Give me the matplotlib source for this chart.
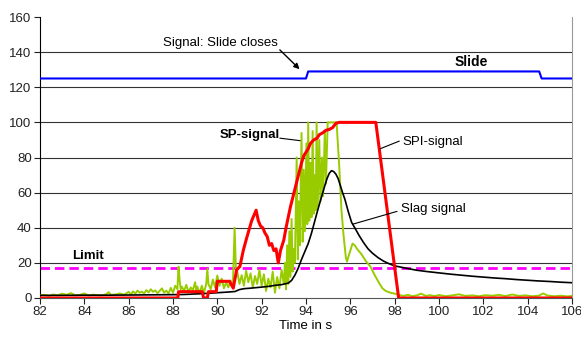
import matplotlib
matplotlib.use("Agg")
import matplotlib.pyplot as plt

plt.rcParams['font.family'] = ['Liberation Sans', 'DejaVu Sans']

# Slide position signal
slide_t = [82.0, 94.0, 94.1, 104.52, 104.63, 106.0]
slide_v = [125, 125, 129, 129, 125, 125]

# Limit level
limit = 17

# SPI-signal (red)
spi_t = [82.0, 88.22, 88.25, 89.32, 89.38, 89.55, 89.6, 89.95, 90.0, 90.55, 90.72, 90.87,
         91.02, 91.17, 91.32, 91.55, 91.75, 91.85, 91.95, 92.05, 92.15, 92.25, 92.35, 92.45,
         92.55, 92.65, 92.75, 92.85, 92.95, 93.0, 93.1, 93.2, 93.3, 93.4, 93.5, 93.6, 93.7,
         93.8, 93.9, 94.0, 94.1, 94.2, 94.35, 94.5, 94.6, 94.75, 94.9, 95.05, 95.2, 95.35,
         95.5, 97.15, 98.18, 106.0]
spi_v = [0, 0, 3.6, 3.6, 0, 0, 3.6, 3.6, 9.5, 9.5, 5.6, 16,
         18, 27, 34, 44, 50, 44, 41, 40, 37, 35, 30, 31,
         27, 28, 20, 27, 31, 33, 40, 46, 52, 57, 62, 67, 72,
         77, 81, 83, 85, 88, 90, 91, 93, 94, 95.5, 96, 97, 99.5,
         100, 100, 0, 0]

# Slag signal (black)
slag_t = [82.0, 83.0, 84.0, 85.0, 86.0, 87.0, 88.0, 88.5, 89.0, 89.5, 90.0, 90.5, 90.8,
          91.0, 91.2, 91.5, 92.0, 92.3, 92.6, 92.9, 93.2, 93.35, 93.5, 93.65, 93.8, 93.95,
          94.1, 94.25, 94.4, 94.55, 94.7, 94.85, 94.95, 95.05, 95.15, 95.25, 95.35, 95.45,
          95.55, 95.65, 95.76, 95.9, 96.06, 96.2, 96.4, 96.6, 96.8, 97.0, 97.25, 97.5, 97.75,
          98.0, 98.5, 99.0, 99.5, 100.0, 100.5, 101.0, 101.5, 102.0, 102.5, 103.0, 103.5,
          104.0, 104.5, 105.0, 105.5, 106.0]
slag_v = [1.5, 1.5, 1.6, 1.6, 1.7, 1.8, 1.9, 2.0, 2.3, 2.6, 3.0, 3.4, 3.7,
          4.8, 5.3, 5.6, 6.2, 6.6, 7.2, 7.6, 8.5, 10, 13, 17, 22, 26.5,
          31, 37, 44, 51, 57.5, 64, 68, 71, 72.5, 72, 70.5, 68,
          64, 60, 56, 49.5, 43, 40, 35.5, 31.5, 28, 25.5, 23, 21, 19.5,
          18.3, 17, 15.8, 15, 14.3, 13.6, 13, 12.4, 11.9, 11.4, 11, 10.5,
          10.1, 9.7, 9.4, 9.0, 8.7]

# SP-signal (green)
sp_t = [82.0, 82.2, 82.4, 82.6, 82.8, 83.0, 83.2, 83.4, 83.6, 83.8, 84.0, 84.2, 84.4, 84.6,
        84.8, 85.0, 85.1, 85.2, 85.4, 85.6, 85.8, 86.0, 86.1, 86.2, 86.3, 86.4, 86.5, 86.6,
        86.7, 86.8, 86.9, 87.0, 87.1, 87.2, 87.3, 87.4, 87.5, 87.6, 87.7, 87.8, 87.9, 88.0,
        88.1, 88.2, 88.25, 88.3, 88.35, 88.4, 88.5, 88.6, 88.7, 88.8, 88.9, 89.0, 89.05,
        89.1, 89.2, 89.3, 89.4, 89.5, 89.55, 89.6, 89.7, 89.8, 89.9, 90.0, 90.1, 90.2, 90.3,
        90.4, 90.5, 90.6, 90.7, 90.78, 90.85, 90.9, 91.0, 91.1, 91.2, 91.3, 91.4, 91.5, 91.6,
        91.7, 91.8, 91.9, 92.0, 92.1, 92.2, 92.3, 92.4, 92.5, 92.6, 92.7, 92.8, 92.9, 93.0,
        93.05, 93.1, 93.15, 93.2, 93.25, 93.3, 93.35, 93.4, 93.45, 93.5, 93.58, 93.63, 93.68,
        93.72, 93.8, 93.85, 93.9, 93.95, 94.02, 94.06, 94.1, 94.15, 94.2, 94.25, 94.3, 94.35,
        94.4, 94.44, 94.48, 94.53, 94.6, 94.65, 94.72, 94.77, 94.85, 94.9, 94.98, 95.38, 95.5,
        95.6, 95.7, 95.8, 95.85, 95.95, 96.1, 96.2, 96.3, 96.5, 96.7, 96.9, 97.1, 97.3, 97.45,
        97.6, 97.8, 98.0, 98.2, 98.4, 98.6, 98.8, 99.0, 99.2, 99.4, 99.6, 99.8, 100.0, 100.3,
        100.6, 100.9, 101.2, 101.5, 101.8, 102.1, 102.4, 102.7, 103.0, 103.3, 103.6, 103.9,
        104.2, 104.5, 104.7, 104.9, 105.2, 105.5, 105.8, 106.0]
sp_v = [1.5, 1.8, 1.2, 2.0, 1.5, 2.5, 1.8, 2.8, 1.5, 1.8, 2.6, 1.4, 1.9, 1.6,
        1.5, 2.2, 3.3, 1.8, 2.0, 2.6, 1.9, 3.5, 2.0, 3.8, 2.5, 4.2, 3.0, 3.6,
        2.6, 4.5, 3.2, 5.0, 3.5, 4.3, 2.8, 4.0, 5.5, 3.0, 4.2, 2.5, 5.8, 3.0,
        7.0, 5.0, 17.8, 10.0, 5.0, 6.5, 4.0, 7.5, 3.5, 6.0, 4.5, 9.0, 4.0,
        6.5, 2.5, 7.0, 3.0, 8.0, 16.5, 8.0, 5.0, 10.5, 6.0, 12.8, 7.0, 11.0, 5.5,
        9.0, 6.0, 10.0, 6.0, 40.0, 12.0, 15.0, 8.0, 13.0, 7.0, 15.5, 9.0, 14.0, 6.0,
        12.5, 8.0, 16.0, 7.0, 13.5, 4.0, 11.0, 6.0, 15.0, 3.0, 12.0, 5.5, 16.0, 8.0,
        20, 5, 30, 8, 38, 12, 45, 15, 28, 20, 80, 22, 55,
        30, 94, 32, 73, 38, 88, 42, 100, 44, 77, 46, 95, 48,
        70, 50, 100, 52, 90, 55, 80, 58, 95, 65, 100, 100, 75,
        50, 35, 23, 20.7, 25, 31, 30, 28, 25, 21, 18, 13, 8.5, 5.5,
        4, 3, 2.5, 1.7, 1.2, 1.8, 1.0, 1.5, 2.5, 1.2, 1.6, 1.1, 1.7, 1.0,
        1.5, 2.1, 1.2, 1.5, 1.0, 1.6, 1.3, 1.8, 1.1, 2.0, 1.2, 1.5,
        1.0, 1.3, 2.6, 1.4, 1.0, 1.3, 0.9, 1.2]

x_ticks = list(range(82, 107, 2))
y_ticks = list(range(0, 161, 20))

fig = plt.figure(figsize=(5.81, 3.43), dpi=100)
ax = fig.add_axes([0.0688, 0.1312, 0.9157, 0.8192])

for y in y_ticks[1:-1]:
    ax.axhline(y, color='#333333', lw=0.8, zorder=1)

ax.plot(sp_t, sp_v, color='#99cc00', lw=1.4, zorder=3)
ax.plot(slag_t, slag_v, color='black', lw=1.2, zorder=4)
ax.axhline(limit, color='#ff00ff', lw=2, dashes=(3.4, 1.8), zorder=2)
ax.plot(spi_t, spi_v, color='#ff0000', lw=2.2, zorder=5)
ax.plot(slide_t, slide_v, color='#0000ff', lw=1.5, zorder=5)

ax.set_xlim(82, 106)
ax.set_ylim(0, 160)
ax.set_xticks(x_ticks)
ax.set_yticks(y_ticks)
ax.tick_params(labelsize=9.5, length=4, width=0.8, pad=2, colors='#222222')
ax.spines['top'].set_visible(False)
ax.spines['right'].set_color('#999999')
ax.spines['left'].set_color('black')
ax.spines['bottom'].set_color('#555555')
ax.set_xlabel('Time in s', fontsize=9.5, labelpad=1)

# annotations
ax.text(87.56, 145.2, 'Signal: Slide closes', fontsize=9.5, va='center', ha='left')
ax.annotate('', xy=(93.8, 129.2), xytext=(92.73, 142.4),
            arrowprops=dict(arrowstyle='-|>', color='black', lw=1, mutation_scale=8))
ax.text(101.44, 134.6, 'Slide', fontsize=10, fontweight='bold', ha='center', va='center')
ax.text(83.47, 24, 'Limit', fontsize=9.5, fontweight='bold', ha='left', va='center')

ax.text(91.47, 92.8, 'SP-signal', fontsize=9.5, fontweight='bold', ha='center', va='center')
ax.plot([92.83, 93.73], [91, 89.6], color='black', lw=0.8, zorder=6)
ax.text(98.36, 89, 'SPI-signal', fontsize=9.5, ha='left', va='center')
ax.plot([97.35, 98.2], [85, 89.3], color='black', lw=0.8, zorder=6)
ax.text(98.3, 50.5, 'Slag signal', fontsize=9.5, ha='left', va='center')
ax.plot([96.13, 98.1], [42.1, 49.3], color='black', lw=0.8, zorder=6)

fig.savefig('out.png', dpi=100)
